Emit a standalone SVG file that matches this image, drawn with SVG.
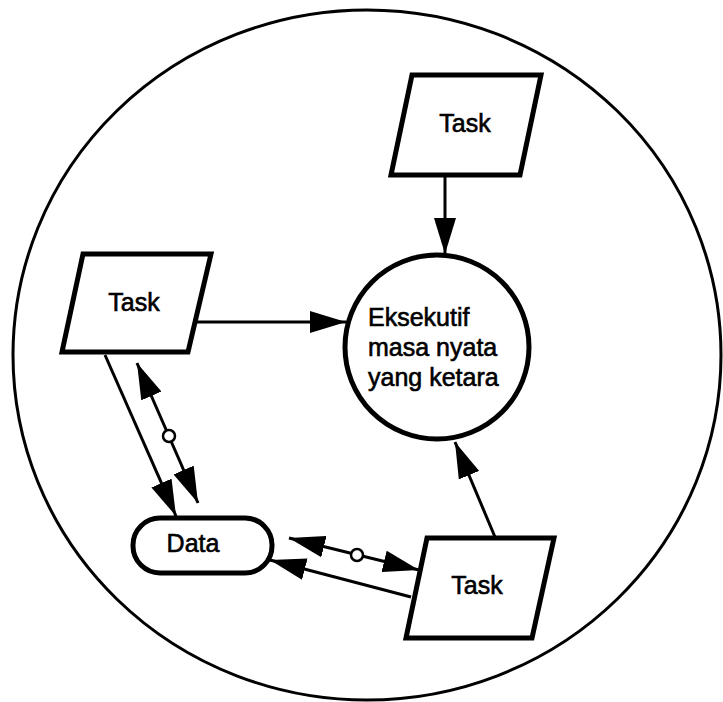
<svg xmlns="http://www.w3.org/2000/svg" width="723" height="702" viewBox="0 0 723 702">
  <style>
    .shape { fill: #fff; stroke: #000; stroke-width: 5; stroke-linejoin: miter; }
    .label { font-family: "Liberation Sans", Arial, sans-serif; font-size: 25px; fill: #000; stroke: #000; stroke-width: 0.6; }
    .mid { text-anchor: middle; }
    .conn { fill: none; stroke: #000; stroke-width: 3; }
    .arrow { marker-end: url(#head); }
    .both { marker-start: url(#head); marker-end: url(#head); }
    .knot { fill: #fff; stroke: #000; stroke-width: 2.5; }
  </style>
  <defs>
    <marker id="head" markerUnits="userSpaceOnUse" markerWidth="36" markerHeight="22" refX="36" refY="11" orient="auto-start-reverse">
      <path d="M0,0 L36,11 L0,22 Z" fill="#000"/>
    </marker>
  </defs>

  <rect width="723" height="702" fill="#fff"/>

  <!-- system boundary -->
  <ellipse id="boundary" cx="367" cy="355" rx="354" ry="345" fill="none" stroke="#000" stroke-width="3"/>

  <g id="connectors">
    <!-- top task to executive -->
    <line class="conn arrow" x1="445" y1="176" x2="445" y2="254"/>
    <!-- left task to executive -->
    <line class="conn arrow" x1="196" y1="322" x2="346" y2="322"/>
    <!-- bottom task to executive -->
    <line class="conn arrow" x1="495" y1="537" x2="455" y2="442"/>
    <!-- left task to data -->
    <line class="conn arrow" x1="105" y1="355" x2="176" y2="516"/>
    <!-- left task <-> data (channel) -->
    <line class="conn both" x1="137" y1="363" x2="198" y2="503"/>
    <circle class="knot" cx="169" cy="436" r="6"/>
    <!-- bottom task to data -->
    <line class="conn arrow" x1="411" y1="597" x2="270" y2="560"/>
    <!-- bottom task <-> data (channel) -->
    <line class="conn both" x1="289" y1="538" x2="419" y2="570"/>
    <circle class="knot" cx="357" cy="555" r="6"/>
  </g>

  <g id="task-top">
    <polygon class="shape" points="412,75 541,75 520,175 391,175"/>
    <text class="label mid" x="465" y="132">Task</text>
  </g>

  <g id="task-left">
    <polygon class="shape" points="83,254 211,254 188,352 62,352"/>
    <text class="label mid" x="134" y="311">Task</text>
  </g>

  <g id="task-bottom">
    <polygon class="shape" points="427,538 554,538 532,638 406,638"/>
    <text class="label mid" x="477" y="594">Task</text>
  </g>

  <g id="executive">
    <circle class="shape" cx="437" cy="347" r="92"/>
    <text class="label" x="368" y="326">Eksekutif</text>
    <text class="label" x="368" y="356">masa nyata</text>
    <text class="label" x="368" y="386">yang ketara</text>
  </g>

  <g id="data">
    <rect class="shape" x="133" y="518" width="139" height="55" rx="27" ry="27"/>
    <text class="label mid" x="193" y="552">Data</text>
  </g>
</svg>
